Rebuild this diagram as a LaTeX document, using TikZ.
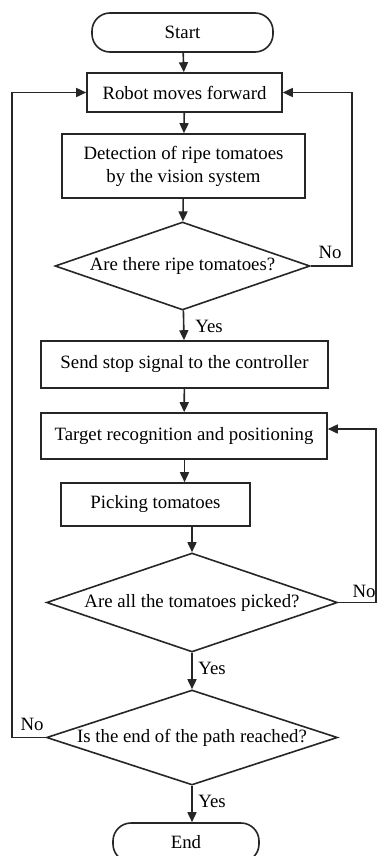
\documentclass[tikz,border=0pt]{standalone}
\usepackage{fontspec}
\setmainfont{Liberation Serif}
\usetikzlibrary{shapes.geometric,arrows.meta}

\begin{document}
\begin{tikzpicture}[
    x=0.5pt, y=-0.5pt,
    font=\fontsize{9.4}{11.5}\selectfont,
    box/.style={rectangle, draw=black!85, line width=0.8pt, align=center, inner sep=0pt},
    term/.style={rectangle, draw=black!85, line width=0.8pt, rounded corners=9pt, inner sep=0pt},
    decision/.style={diamond, draw=black!85, line width=0.8pt, aspect=3, inner sep=0pt, align=center},
    lbl/.style={inner sep=0pt},
    arrow/.style={-{Triangle[length=5pt,width=4.5pt]}, draw=black!85, line width=0.8pt}
]
    \useasboundingbox (0,0) rectangle (377,856);

    % Ablauf Mitte
    \node[term, minimum width=90.5pt, minimum height=19.5pt] (start) at (182.5,32.5) {Start};
    \node[box, minimum width=97.5pt, minimum height=19.5pt] (robot) at (184.5,92.5) {Robot moves forward};
    \node[box, minimum width=121.5pt, minimum height=32pt] (detect) at (183.5,166) {Detection of ripe tomatoes\\by the vision system};
    \node[decision, minimum width=127.5pt, minimum height=44pt] (ripe) at (182.5,266) {Are there ripe tomatoes?};
    \node[box, minimum width=143.5pt, minimum height=23.5pt] (stop) at (184.5,364.5) {Send stop signal to the controller};
    \node[box, minimum width=143pt, minimum height=23pt] (target) at (184,436) {Target recognition and positioning};
    \node[box, minimum width=94.5pt, minimum height=21.5pt] (pick) at (155.5,504.5) {Picking tomatoes};
    \node[decision, minimum width=145.5pt, minimum height=49.5pt] (allpicked) at (192,602.5) {Are all the tomatoes picked?};
    \node[decision, minimum width=145.5pt, minimum height=47.5pt] (pathend) at (192,737.5) {Is the end of the path reached?};
    \node[term, minimum width=73pt, minimum height=19.5pt] (end) at (186,842.5) {End};

    % Beschriftungen
    \node[lbl] (yes1) at (209,326) {Yes};
    \node[lbl] (no1) at (330,252) {No};
    \node[lbl] (no2) at (364,591) {No};
    \node[lbl] (yes2) at (212,668) {Yes};
    \node[lbl] (no3) at (32,724) {No};
    \node[lbl] (yes3) at (212,801) {Yes};

    % Hilfspunkte der Rueckfuehrungen
    \coordinate (rightup) at (352,92.5);
    \coordinate (leftup) at (12,92.5);
    \coordinate (backup) at (376,429);

    % Pfeile
    \draw[arrow] (start) -- (robot);
    \draw[arrow] (robot) -- (detect);
    \draw[arrow] (detect) -- (ripe);
    \draw[arrow] (ripe) -- (stop);
    \draw[arrow] (stop) -- (target);
    \draw[arrow] (target.south -| robot) -- (pick.north -| robot);
    \draw[arrow] (pick.south -| allpicked) -- (allpicked.north);
    \draw[arrow] (allpicked) -- (pathend);
    \draw[arrow] (pathend.south) -- (pathend.south |- end.north);
    \draw[arrow] (ripe.east) -| (rightup) -- (robot.east);
    \draw[arrow] (pathend.west) -| (leftup) -- (robot.west);
    \draw[arrow] (allpicked.east) -| (backup) -- (backup -| target.east);
\end{tikzpicture}
\end{document}
